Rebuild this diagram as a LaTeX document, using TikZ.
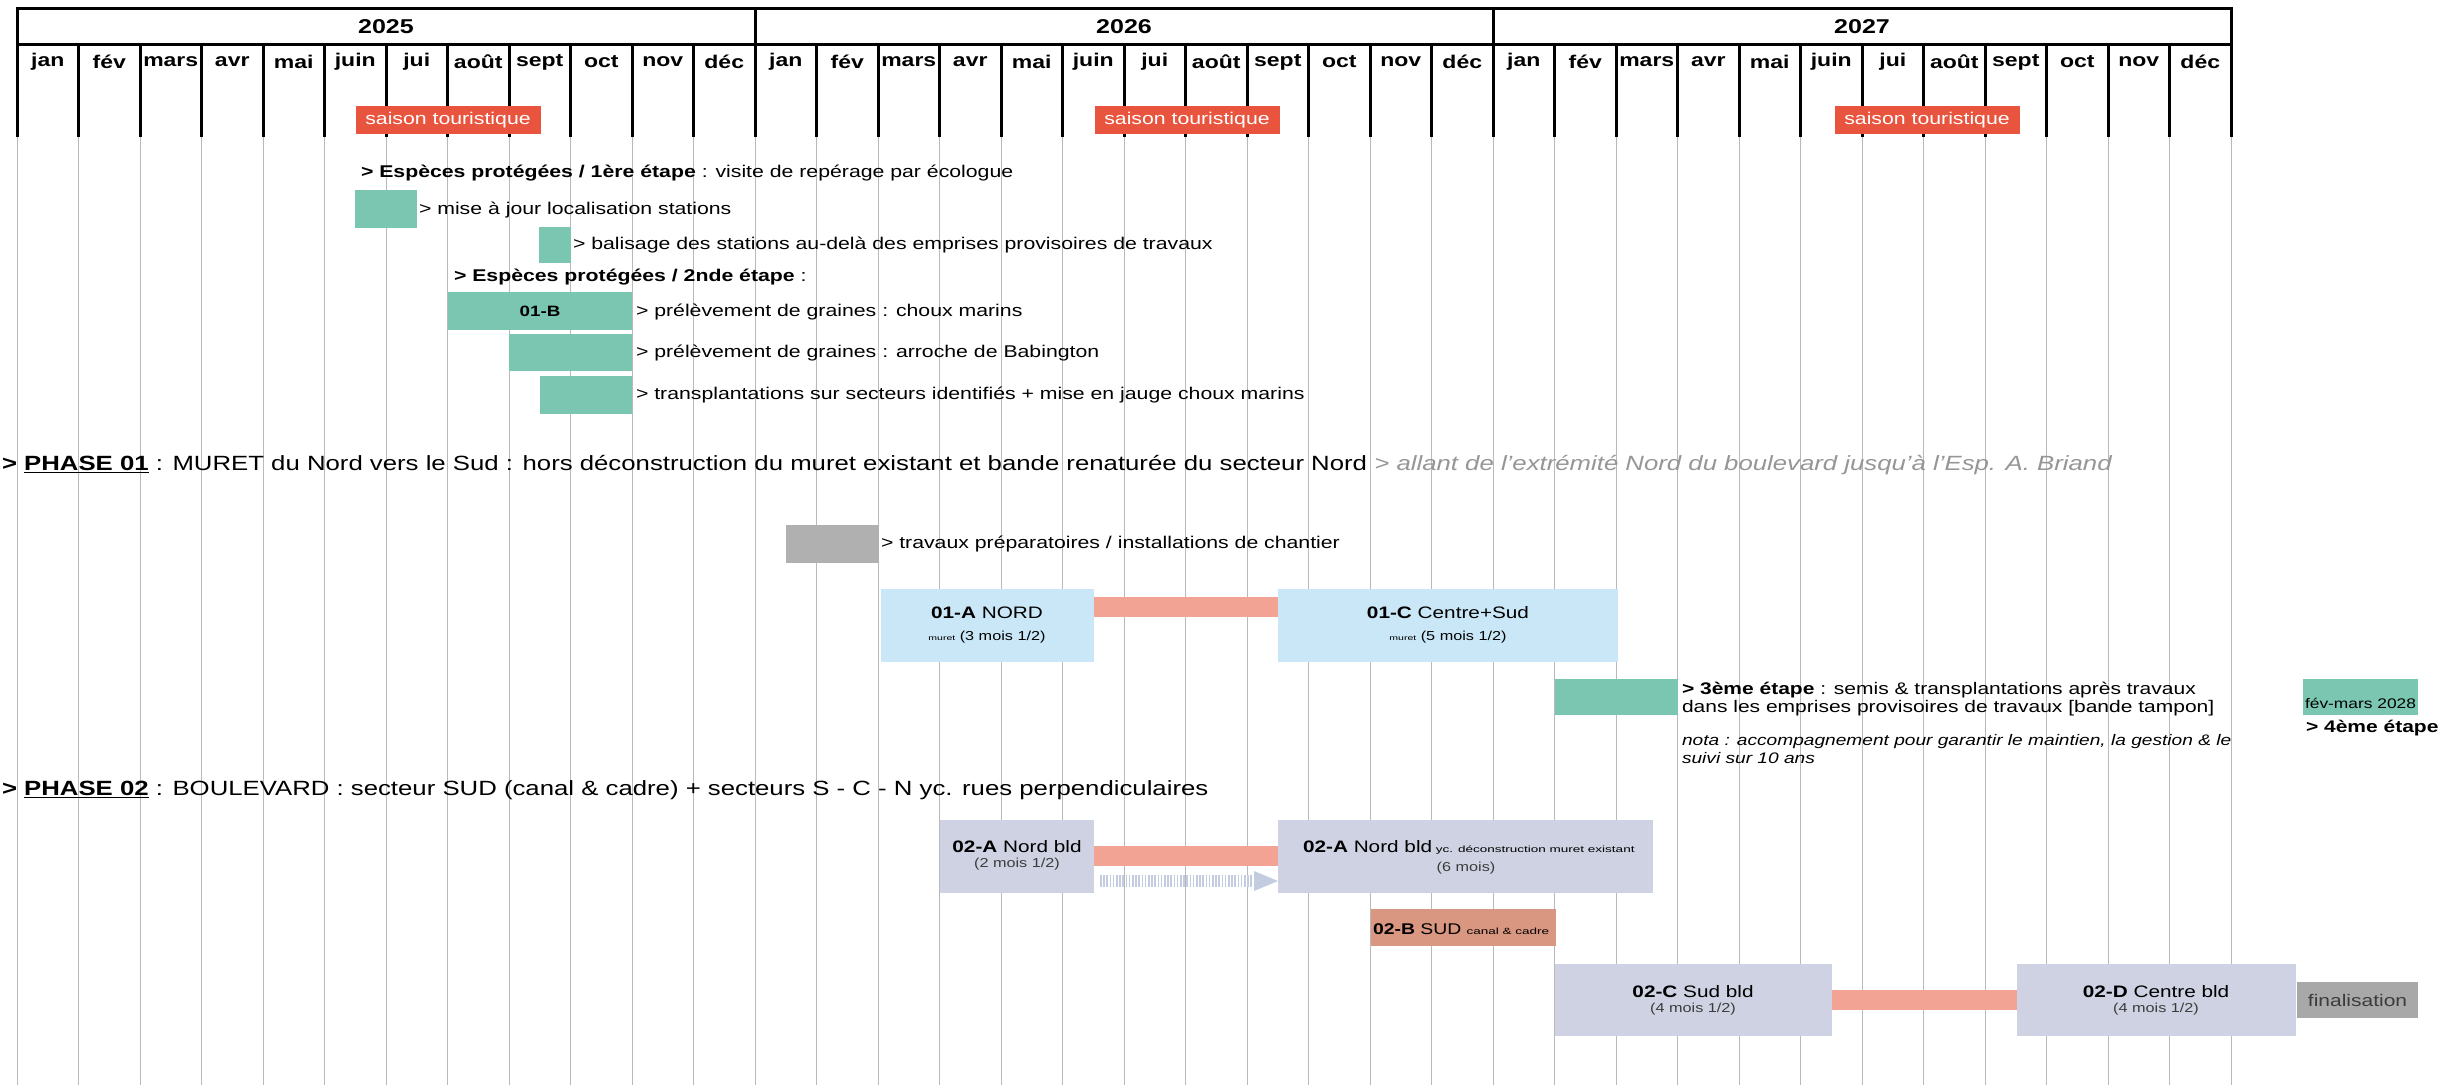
\documentclass[tikz,border=0pt]{standalone}
\usepackage{fontspec}
\setmainfont{Liberation Sans}[FakeStretch=1.25]
\newfontfamily\widefont{Liberation Sans}[FakeStretch=1.5]
\usetikzlibrary{calc}
\definecolor{tealbox}{RGB}{122,198,176}
\definecolor{saisonred}{RGB}{232,84,62}
\definecolor{lightblue}{RGB}{201,231,246}
\definecolor{salmon}{RGB}{243,163,148}
\definecolor{lavgrey}{RGB}{206,210,226}
\definecolor{sudbrown}{RGB}{217,150,128}
\definecolor{prepgrey}{RGB}{176,176,176}
\definecolor{finalgrey}{RGB}{168,168,168}
\definecolor{gridgrey}{RGB}{185,185,185}
\definecolor{notegrey}{RGB}{150,150,150}
\definecolor{hatchblue}{RGB}{196,204,224}
\definecolor{darktxt}{RGB}{60,60,60}
\newcommand\fsz[2]{\fontsize{#1}{#2}\selectfont}
\tikzset{
 gridline/.style={draw=gridgrey, line width=1pt},
 hdrline/.style={draw=black, line width=3pt},
 bar/.style={draw=none, fill=#1, inner sep=0pt, outer sep=0pt},
 txt/.style={inner sep=0pt, outer sep=0pt, anchor=west, text=black},
 ctxt/.style={inner sep=0pt, outer sep=0pt, text=black},
 conn/.style={draw=salmon, line width=20pt},
 hatch/.style={draw=hatchblue, line width=12pt, dash pattern=on 1.6pt off 1.6pt},
}
% name, colour, x1, y1, x2, y2 (image pixels, y downward)
\newcommand\gbox[6]{\node[bar=#2, anchor=north west, minimum width={(#5-#3)*1pt}, minimum height={(#6-#4)*1pt}] (#1) at (#3,#4) {};}
\begin{document}
\begin{tikzpicture}[x=1pt,y=-1pt]
\useasboundingbox (0,0) rectangle (2440,1091);
\clip (0,0) rectangle (2440,1091);
\fill[white] (0,0) rectangle (2440,1091);

% grid
\foreach \m in {0,...,36} \draw[gridline] ({17+61.5*\m},137) -- ({17+61.5*\m},1085);
% header
\draw[hdrline] (17,9) -- (2231,9);
\draw[hdrline] (17,45) -- (2231,45);
\foreach \m in {1,...,35} \draw[hdrline] ({17+61.5*\m},45) -- ({17+61.5*\m},137);
\foreach \m in {0,12,24,36} \draw[hdrline] ({17+61.5*\m},7.5) -- ({17+61.5*\m},137);
\foreach \y [count=\i from 0] in {2025,2026,2027}
  \node[ctxt, font=\bfseries\fsz{20}{24}] (yr\i) at ({17+61.5*(12*\i+6)},27) {\y};
\foreach \n [count=\k from 0] in {jan,fév,mars,avr,mai,juin,jui,août,sept,oct,nov,déc,jan,fév,mars,avr,mai,juin,jui,août,sept,oct,nov,déc,jan,fév,mars,avr,mai,juin,jui,août,sept,oct,nov,déc}
  \node[ctxt, font=\bfseries\fsz{18.4}{22}] (mo\k) at ({17+61.5*(\k+0.5)},62) {\n};
\foreach \c [count=\i] in {448,1187,1927}
  \node[bar=saisonred, minimum width=185pt, minimum height=28pt, text=white, font=\fsz{17}{20}] (sais\i) at (\c,120) {saison touristique};

% especes protegees
\node[txt, font=\fsz{17}{20}] (e1) at (361,173) {\textbf{> Espèces protégées / 1ère étape} : visite de repérage par écologue};
\gbox{b1}{tealbox}{355}{190}{417}{228}
\node[txt, font=\fsz{17}{20}] (t1) at (419,210) {> mise à jour localisation stations};
\gbox{b2}{tealbox}{539}{227}{571}{263}
\node[txt, font=\fsz{17}{20}] (t2) at (573,245) {> balisage des stations au-delà des emprises provisoires de travaux};
\node[txt, font=\fsz{17}{20}] (e2) at (454,277) {\textbf{> Espèces protégées / 2nde étape} :};
\gbox{b3}{tealbox}{448}{292}{632}{330}
\node[ctxt, font=\bfseries\fsz{15}{18}] (b3t) at (b3.center) {01-B};
\node[txt, font=\fsz{17}{20}] (t3) at (636,312) {> prélèvement de graines : choux marins};
\gbox{b4}{tealbox}{509}{334}{632}{371}
\node[txt, font=\fsz{17}{20}] (t4) at (636,353) {> prélèvement de graines : arroche de Babington};
\gbox{b5}{tealbox}{540}{376}{632}{414}
\node[txt, font=\fsz{17}{20}] (t5) at (636,395) {> transplantations sur secteurs identifiés + mise en jauge choux marins};

% phase 01
\node[txt, font=\fsz{20.6}{24}] (p1) at (2,465) {\textbf{> \underline{PHASE 01}} : MURET du Nord vers le Sud : hors déconstruction du muret existant et bande renaturée du secteur Nord {\color{notegrey}\itshape > allant de l’extrémité Nord du boulevard jusqu’à l’Esp. A. Briand}};
\gbox{prep}{prepgrey}{786}{525}{879}{563}
\node[txt, font=\fsz{17}{20}] (tprep) at (881,544) {> travaux préparatoires / installations de chantier};
\gbox{a1}{lightblue}{881}{589}{1094}{662}
\node[ctxt, font=\fsz{16.6}{20}] (a1t) at (987,613) {\textbf{01-A} NORD};
\node[ctxt, font=\fsz{13}{16}] (a1d) at (987,637) {{\widefont\fsz{7}{8}muret} (3 mois 1/2)};
\gbox{c1}{lightblue}{1278}{589}{1618}{662}
\node[ctxt, font=\fsz{16.6}{20}] (c1t) at (1448,613) {\textbf{01-C} Centre+Sud};
\node[ctxt, font=\fsz{13}{16}] (c1d) at (1448,637) {{\widefont\fsz{7}{8}muret} (5 mois 1/2)};
\draw[conn] ([yshift=18.5pt]a1.east) -- ([yshift=18.5pt]c1.west);

% 3eme etape
\gbox{b6}{tealbox}{1555}{679}{1678}{715}
\node[txt, font=\fsz{16.8}{20}] (t6a) at (1682,690) {\textbf{> 3ème étape} : semis \& transplantations après travaux};
\node[txt, font=\fsz{16.8}{20}] (t6b) at (1682,708) {dans les emprises provisoires de travaux [bande tampon]};
\node[txt, font=\itshape\fsz{15.3}{18}] (n1) at (1682,742) {nota : accompagnement pour garantir le maintien, la gestion \& le};
\node[txt, font=\itshape\fsz{15.3}{18}] (n2) at (1682,758) {suivi sur 10 ans};
\gbox{b7}{tealbox}{2303}{679}{2418}{715}
\node[txt, font=\fsz{13.9}{16}] (t7) at (2305,703) {fév-mars 2028};
\node[txt, font=\bfseries\fsz{16.8}{20}] (t8) at (2306,728) {> 4ème étape};

% phase 02
\node[txt, font=\fsz{20.6}{24}] (p2) at (2,790) {\textbf{> \underline{PHASE 02}} : BOULEVARD : secteur SUD (canal \& cadre) + secteurs S - C - N yc. rues perpendiculaires};
\gbox{a2s}{lavgrey}{940}{820}{1094}{893}
\node[ctxt, font=\fsz{16.6}{20}] (a2st) at (1017,847) {\textbf{02-A} Nord bld};
\node[ctxt, font=\fsz{13}{16}, text=darktxt] (a2sd) at (1017,864) {(2 mois 1/2)};
\gbox{a2b}{lavgrey}{1278}{820}{1653}{893}
\node[txt, font=\fsz{16.6}{20}] (a2bt) at (1303,847) {\textbf{02-A} Nord bld{\widefont\fsz{9}{10} yc. déconstruction muret existant}};
\node[ctxt, font=\fsz{13}{16}, text=darktxt] (a2bd) at (1466,868) {(6 mois)};
\draw[conn] ([yshift=0.5pt]a2s.east) -- ([yshift=0.5pt]a2b.west);
\draw[hatch] ([xshift=6pt,yshift=12pt]a2s.south east) -- ([xshift=-24pt,yshift=12pt]a2b.south west);
\fill[hatchblue] ([xshift=-24pt,yshift=22pt]a2b.south west) -- ([yshift=12pt]a2b.south west) -- ([xshift=-24pt,yshift=2pt]a2b.south west) -- cycle;
\gbox{b2b}{sudbrown}{1371}{909}{1556}{946}
\node[txt, font=\fsz{15.5}{18}] (b2bt) at (1373,929) {\textbf{02-B} SUD {\widefont\fsz{9}{10}canal \& cadre}};
\gbox{c2}{lavgrey}{1555}{964}{1832}{1036}
\node[ctxt, font=\fsz{16.6}{20}] (c2t) at (1693,992) {\textbf{02-C} Sud bld};
\node[ctxt, font=\fsz{13}{16}, text=darktxt] (c2d) at (1693,1009) {(4 mois 1/2)};
\gbox{d2}{lavgrey}{2017}{964}{2296}{1036}
\node[ctxt, font=\fsz{16.6}{20}] (d2t) at (2156,992) {\textbf{02-D} Centre bld};
\node[ctxt, font=\fsz{13}{16}, text=darktxt] (d2d) at (2156,1009) {(4 mois 1/2)};
\draw[conn] (c2.east) -- (d2.west);
\node[bar=finalgrey, anchor=north west, minimum width=121pt, minimum height=36pt, text=darktxt, font=\fsz{16.8}{20}] (fin) at (2297,982) {finalisation};
\end{tikzpicture}
\end{document}
